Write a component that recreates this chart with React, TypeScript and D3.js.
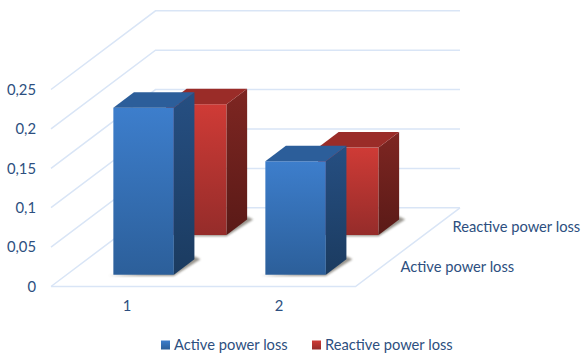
import React from "react";
import * as d3 from "d3";

const categories = ["1", "2"];
const seriesNames = ["Active power loss", "Reactive power loss"];
const activeLoss = [0.212, 0.144];
const reactiveLoss = [0.166, 0.111];
const yTicks = [0, 0.05, 0.1, 0.15, 0.2, 0.25];

const WIDTH = 581;
const HEIGHT = 355;
const TEXT = "#2d4f80";
const GRID = "#d9e5f6";
const FONT = "Lato, 'Open Sans', sans-serif";

// Oblique projection: floor depth moves a point up and to the right.
const DEPTH_Y = 78.7;
const DEPTH_X = 104.5;
const shift = (d: number) => (d * DEPTH_X) / DEPTH_Y;

const x = d3.scaleBand<string>().domain(categories).range([52, 356]).paddingInner(0.602).paddingOuter(0.301);
const y = d3.scaleLinear().domain([0, 0.25]).range([286.5, 89.5]);
const depth = d3.scaleBand<string>().domain(seriesNames).range([0, DEPTH_Y]).paddingInner(0.61).paddingOuter(0.296);
const decimal = (v: number) => String(v).replace(".", ",");
const points = (p: number[][]) => p.map((q) => q.join(",")).join(" ");

const palettes = [
  { front: ["#3d7ecc", "#2c5f9a"], side: ["#264f82", "#1b3b60"], top: "#2c5e9a" },
  { front: ["#cf3b36", "#952c2a"], side: ["#7e2622", "#5a1a17"], top: "#9a2c28" },
];

function Bar({ cat, value, s }: { cat: string; value: number; s: number }) {
  const d0 = depth(seriesNames[s])!;
  const barDepth = depth.bandwidth();
  const left = x(cat)! + shift(d0);
  const right = left + x.bandwidth();
  const base = y(0) - d0;
  const top = base - (y(0) - y(value));
  const dx = shift(barDepth);
  const p = palettes[s];
  return (
    <g>
      {/* Contact shadow on the floor */}
      <polygon
        points={points([
          [left - 5, base + 1.2],
          [right, base + 1.2],
          [right + dx + 6, base - barDepth],
          [right + dx, base - barDepth - 3],
          [right, base - 3],
        ])}
        fill="#6f6a60"
        opacity={0.7}
        filter="url(#soft)"
      />
      <rect x={left} y={top} width={right - left} height={base - top} fill={`url(#front${s})`} />
      <polygon
        points={points([
          [right, top],
          [right + dx, top - barDepth],
          [right + dx, base - barDepth],
          [right, base],
        ])}
        fill={`url(#side${s})`}
      />
      <polygon
        points={points([
          [left, top],
          [left + dx, top - barDepth],
          [right + dx, top - barDepth],
          [right, top],
        ])}
        fill={p.top}
      />
    </g>
  );
}

export default function App() {
  const values = [activeLoss, reactiveLoss];
  return (
    <svg
      width={WIDTH}
      height={HEIGHT}
      viewBox={`0 0 ${WIDTH} ${HEIGHT}`}
      style={{ position: "absolute", left: 0, top: 0, fontFamily: FONT }}
    >
      <defs>
        <filter id="soft" x="-20%" y="-20%" width="140%" height="140%">
          <feGaussianBlur stdDeviation="0.9" />
        </filter>
        {palettes.map((p, i) => (
          <React.Fragment key={i}>
            <linearGradient id={`front${i}`} x1="0" y1="0" x2="0" y2="1">
              <stop offset="0" stopColor={p.front[0]} />
              <stop offset="1" stopColor={p.front[1]} />
            </linearGradient>
            <linearGradient id={`side${i}`} x1="0" y1="0" x2="0" y2="1">
              <stop offset="0" stopColor={p.side[0]} />
              <stop offset="1" stopColor={p.side[1]} />
            </linearGradient>
          </React.Fragment>
        ))}
      </defs>

      {/* Side wall and back wall gridlines */}
      {yTicks.map((t) => (
        <polyline
          key={t}
          points={points([
            [51, y(t)],
            [51 + DEPTH_X, y(t) - DEPTH_Y],
            [460, y(t) - DEPTH_Y],
          ])}
          fill="none"
          stroke={GRID}
          strokeWidth={1.5}
        />
      ))}
      {/* Floor outline */}
      <polyline
        points={points([
          [51, y(0)],
          [355.5, y(0)],
          [460, y(0) - DEPTH_Y],
        ])}
        fill="none"
        stroke={GRID}
        strokeWidth={1.5}
      />

      {/* Rear series first so the front series overlaps it */}
      {[1, 0].map((s) =>
        categories.map((c, i) => <Bar key={`${s}-${c}`} cat={c} value={values[s][i]} s={s} />)
      )}

      {yTicks.map((t) => (
        <text key={t} x={36} y={y(t)} dy="0.36em" textAnchor="end" fontSize={14.8} fill={TEXT}>
          {decimal(t)}
        </text>
      ))}
      {categories.map((c) => (
        <text key={c} x={x(c)! + x.bandwidth() / 2 - 1} y={311} textAnchor="middle" fontSize={14.8} fill={TEXT}>
          {c}
        </text>
      ))}

      {/* Depth axis labels */}
      <text x={400.5} y={272.3} fontSize={14.7} fill={TEXT}>{seriesNames[0]}</text>
      <text x={452.5} y={232.3} fontSize={14.7} fill={TEXT}>{seriesNames[1]}</text>

      {/* Legend */}
      {seriesNames.map((name, i) => {
        const lx = [161, 312][i];
        return (
          <g key={name}>
            <rect x={lx} y={340.5} width={9} height={9} fill={`url(#front${i})`} />
            <text x={lx + 13} y={349.7} fontSize={14.7} fill={TEXT}>{name}</text>
          </g>
        );
      })}
    </svg>
  );
}
